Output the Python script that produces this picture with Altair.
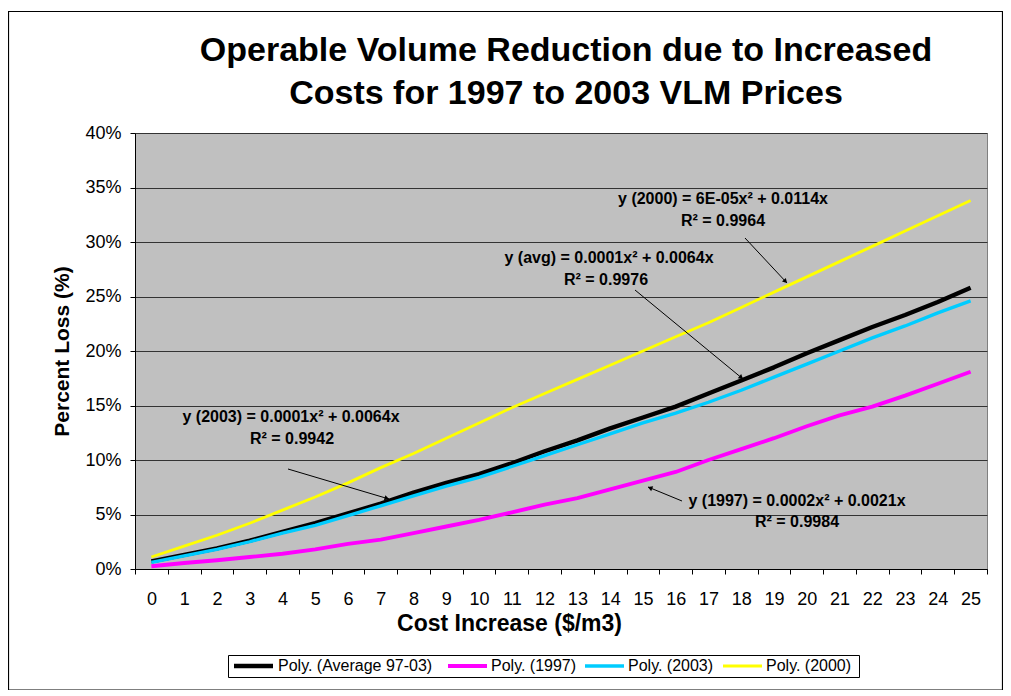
import math
import altair as alt
import pandas as pd

# ---------------- data ----------------
cost = list(range(26))
series_names = ["Poly. (Average 97-03)", "Poly. (1997)", "Poly. (2003)", "Poly. (2000)"]
series_colors = ["#000000", "#FF00FF", "#00CCFF", "#FFFF00"]
series_widths = [4.4, 2.8, 2.8, 2.8]

avg_9703 = [0.7, 1.3, 1.9, 2.6, 3.4, 4.2, 5.1, 6.0, 7.0, 7.9, 8.7, 9.7, 10.8,
            11.8, 12.9, 13.9, 14.9, 16.1, 17.3, 18.5, 19.8, 21.0, 22.2, 23.3, 24.5, 25.8]
y1997 = [0.25, 0.55, 0.8, 1.1, 1.4, 1.8, 2.3, 2.7, 3.3, 3.9, 4.5, 5.2, 5.9,
         6.5, 7.3, 8.1, 8.9, 10.0, 11.0, 12.0, 13.1, 14.1, 14.9, 15.9, 17.0, 18.1]
y2003 = [0.6, 1.2, 1.8, 2.5, 3.3, 4.0, 4.9, 5.8, 6.7, 7.6, 8.4, 9.4, 10.4,
         11.4, 12.4, 13.4, 14.3, 15.3, 16.4, 17.6, 18.8, 20.0, 21.2, 22.3, 23.5, 24.6]
y2000 = [1.1, 2.1, 3.1, 4.2, 5.4, 6.6, 7.9, 9.3, 10.6, 12.0, 13.4, 14.8, 16.1,
         17.4, 18.7, 20.0, 21.3, 22.6, 24.0, 25.4, 26.8, 28.2, 29.6, 31.0, 32.4, 33.8]

y_ticks = [0, 5, 10, 15, 20, 25, 30, 35, 40]

title_lines = ["Operable Volume Reduction due to Increased", "Costs for 1997 to 2003 VLM Prices"]

ann_labels = [
    "y (2000) = 6E-05x² + 0.0114x", "R² = 0.9964",
    "y (avg) = 0.0001x² + 0.0064x", "R² = 0.9976",
    "y (2003) = 0.0001x² + 0.0064x", "R² = 0.9942",
    "y (1997) = 0.0002x² + 0.0021x", "R² = 0.9984",
]

# ---------------- layout (page pixels) ----------------
PW, PH = 852, 436          # plot area
OX, OY = 135, 133          # plot origin on page
PAD_L, PAD_T = OX - 8, OY - 8
FONT = "Liberation Sans"

title_x = [566, 566]
title_y = [61, 104]        # baselines

ann_px = [723, 723, 609, 606, 291, 292, 797, 797]
ann_py = [199, 221, 258, 280, 417, 439, 501, 522]

arrow_start = [(745, 238), (635, 290), (288, 469), (682, 501)]
arrow_end = [(787, 283), (743, 379), (389, 499), (648, 487)]

legend_box = (228, 655, 859, 677)
legend_sym_x = [234, 448, 585, 723]
legend_sym_len = 39
legend_lab_x = [278, 491, 628, 766]
legend_y = 666

# ---------------- tables ----------------
rows = []
for name, vals in zip(series_names, [avg_9703, y1997, y2003, y2000]):
    for c, v in zip(cost, vals):
        rows.append({"cost": c, "loss": v, "series": name})
df = pd.DataFrame(rows)

title_df = pd.DataFrame({"px": [p - OX for p in title_x],
                         "py": [p - OY for p in title_y],
                         "label": title_lines})

ann_df = pd.DataFrame({
    "px": [p - OX for p in ann_px],
    "py": [p - OY for p in ann_py],
    "label": ann_labels,
})

arr_rows = []
for (x0, y0), (x1, y1) in zip(arrow_start, arrow_end):
    dx, dy = x1 - x0, y1 - y0
    ang = math.degrees(math.atan2(dx, -dy)) % 360
    L = math.hypot(dx, dy)
    hx, hy = x1 - dx / L * 3, y1 - dy / L * 3
    arr_rows.append({"x0": x0 - OX, "y0": y0 - OY, "x1": x1 - OX, "y1": y1 - OY,
                     "hx": hx - OX, "hy": hy - OY, "ang": ang})
arr_df = pd.DataFrame(arr_rows)

leg_df = pd.DataFrame({
    "series": series_names,
    "sx0": [x - OX for x in legend_sym_x],
    "sx1": [x + legend_sym_len - OX for x in legend_sym_x],
    "lx": [x - OX for x in legend_lab_x],
    "ly": [legend_y - OY] * 4,
})

# ---------------- chart ----------------
color_scale = alt.Scale(domain=series_names, range=series_colors)
width_scale = alt.Scale(domain=series_names, range=series_widths)

x_enc = alt.X(
    "cost:O",
    scale=alt.Scale(type="band", paddingInner=0, paddingOuter=0),
    bandPosition=0.5,
    axis=alt.Axis(
        title="Cost Increase ($/m3)", labelAngle=0, tickBand="extent",
        labelFont=FONT, labelFontSize=18, labelColor="#000", labelPadding=16,
        tickColor="#000", tickSize=5, domainColor="#000",
        titleFont=FONT, titleFontSize=23, titleFontWeight="bold", titleColor="#000",
        titleX=509 - OX, titleY=623 - (OY + PH), titleBaseline="middle", titleAlign="center",
    ),
)
y_enc = alt.Y(
    "loss:Q",
    scale=alt.Scale(domain=[0, 40], nice=False),
    axis=alt.Axis(
        title="Percent Loss (%)", values=y_ticks, labelExpr="datum.value + '%'",
        labelFont=FONT, labelFontSize=18, labelColor="#000", labelPadding=9,
        tickColor="#000", tickSize=5, domainColor="#000",
        grid=True, gridColor="#333333", gridWidth=1.2,
        titleFont=FONT, titleFontSize=21, titleFontWeight="bold", titleColor="#000",
        titleX=62 - OX, titleY=351 - OY, titleBaseline="middle", titleAlign="center",
        titleAngle=270,
    ),
)

lines = alt.Chart(df).mark_line(strokeJoin="round").encode(
    x=x_enc,
    y=y_enc,
    color=alt.Color("series:N", scale=color_scale, legend=None),
    strokeWidth=alt.StrokeWidth("series:N", scale=width_scale, legend=None),
    order=alt.Order("cost:Q"),
)

px = lambda f: alt.X(f, scale=None, axis=None)
py = lambda f: alt.Y(f, scale=None, axis=None)

title_marks = alt.Chart(title_df).mark_text(
    font=FONT, fontSize=34, fontWeight="bold", color="#000", align="center", baseline="alphabetic"
).encode(x=px("px:Q"), y=py("py:Q"), text="label:N")

texts = alt.Chart(ann_df).mark_text(
    font=FONT, fontSize=16, fontWeight="bold", color="#000", align="center", baseline="middle"
).encode(x=px("px:Q"), y=py("py:Q"), text="label:N")

arrows = alt.Chart(arr_df).mark_rule(color="#000", strokeWidth=1).encode(
    x=px("x0:Q"), y=py("y0:Q"), x2="x1:Q", y2="y1:Q",
)

heads = alt.Chart(arr_df).mark_point(shape="triangle", filled=True, size=28, color="#000", opacity=1).encode(
    x=px("hx:Q"), y=py("hy:Q"), angle=alt.Angle("ang:Q", scale=None),
)

border = alt.Chart(alt.Data(values=[{"a": 1}])).mark_rect(
    fill=None, stroke="#000", strokeWidth=1.2
).encode(
    x=alt.value(8.5 - OX), x2=alt.value(1002.5 - OX),
    y=alt.value(11.5 - OY), y2=alt.value(690 - OY),
)

leg_box = alt.Chart(alt.Data(values=[{"a": 1}])).mark_rect(
    fill="#FFFFFF", stroke="#000", strokeWidth=1
).encode(
    x=alt.value(legend_box[0] + 0.5 - OX), x2=alt.value(legend_box[2] + 0.5 - OX),
    y=alt.value(legend_box[1] + 0.5 - OY), y2=alt.value(legend_box[3] + 0.5 - OY),
)

leg_sym = alt.Chart(leg_df).mark_rule(strokeCap="butt").encode(
    x=px("sx0:Q"), x2="sx1:Q", y=py("ly:Q"),
    color=alt.Color("series:N", scale=color_scale, legend=None),
    strokeWidth=alt.StrokeWidth("series:N", scale=width_scale, legend=None),
)

leg_lab = alt.Chart(leg_df).mark_text(
    font=FONT, fontSize=16, color="#000", align="left", baseline="middle"
).encode(x=px("lx:Q"), y=py("ly:Q"), text="series:N")

chart = alt.layer(
    border, lines, arrows, heads, texts, title_marks, leg_box, leg_sym, leg_lab
).properties(
    width=PW, height=PH,
    autosize=alt.AutoSizeParams(type="none"),
    padding={"left": PAD_L, "top": PAD_T, "right": 16, "bottom": 121},
    background="#FFFFFF",
).configure_view(
    fill="#C0C0C0", stroke="#808080", strokeWidth=1
)

chart.save("out.html", embed_options={"renderer": "svg", "actions": False})
